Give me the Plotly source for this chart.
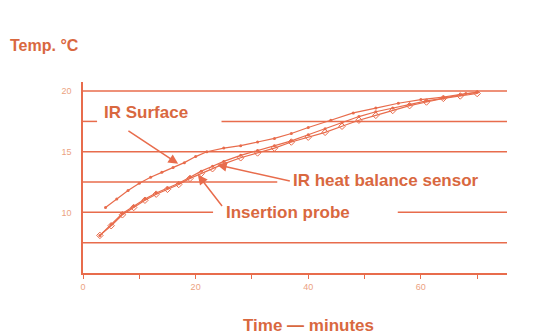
import plotly.graph_objects as go

# ---- data ----
surf_t = [4, 6, 8, 10, 12, 14, 16, 18, 20, 22, 25, 28, 31, 34, 37, 40, 44, 48, 52, 56, 60, 64, 68, 70]
surf_v = [10.4, 11.1, 11.8, 12.4, 12.9, 13.3, 13.7, 14.1, 14.6, 15.0, 15.3, 15.5, 15.8, 16.1, 16.5, 17.0,
          17.6, 18.2, 18.6, 19.0, 19.3, 19.5, 19.8, 19.9]

hb_t = [3, 5, 7, 9, 11, 13, 15, 17, 19, 21, 23, 25, 28, 31, 34, 37, 40, 43, 46, 49, 52, 55, 58, 61, 64, 67, 70]
hb_v = [8.1, 9.0, 9.9, 10.5, 11.1, 11.6, 12.0, 12.4, 12.9, 13.4, 13.8, 14.2, 14.7, 15.1, 15.5, 15.9, 16.4,
        16.9, 17.4, 17.9, 18.3, 18.6, 18.9, 19.2, 19.4, 19.7, 19.9]

ins_t = [3, 5, 7, 9, 11, 13, 15, 17, 19, 21, 23, 25, 28, 31, 34, 37, 40, 43, 46, 49, 52, 55, 58, 61, 64, 67, 70]
ins_v = [8.1, 8.9, 9.8, 10.4, 11.0, 11.5, 11.9, 12.3, 12.8, 13.2, 13.6, 14.0, 14.5, 14.9, 15.3, 15.8, 16.2,
         16.6, 17.1, 17.6, 18.0, 18.4, 18.8, 19.1, 19.4, 19.6, 19.8]

x_ticks = [0, 10, 20, 30, 40, 50, 60, 70]
x_ticklabels = ["0", "", "20", "", "40", "", "60", ""]
y_ticks = [10, 15, 20]

# horizontal rule lines: (value, [segments in minutes])
rules = [
    (20.0, [(0, 75.3)]),
    (17.5, [(0, 2.5), (24.6, 75.3)]),
    (15.0, [(0, 75.3)]),
    (12.5, [(0, 34.5)]),
    (10.0, [(0, 23.1), (55.9, 75.3)]),
    (7.5, [(0, 75.3)]),
]

LINE = "#e86c4c"
TEXT = "#d9683f"
TICK = "#eca282"
FONT = "Liberation Sans, Arial, sans-serif"

fig = go.Figure()
fig.add_trace(go.Scatter(x=surf_t, y=surf_v, mode="lines+markers",
                         line=dict(color=LINE, width=1.2),
                         marker=dict(size=3, color=LINE), showlegend=False))
fig.add_trace(go.Scatter(x=hb_t, y=hb_v, mode="lines+markers",
                         line=dict(color=LINE, width=1.2),
                         marker=dict(size=3, color=LINE), showlegend=False))
fig.add_trace(go.Scatter(x=ins_t, y=ins_v, mode="lines+markers",
                         line=dict(color=LINE, width=1.2),
                         marker=dict(size=5, symbol="diamond-open", color=LINE, line=dict(width=1)),
                         showlegend=False))

shapes = []
for val, segs in rules:
    for a, b in segs:
        shapes.append(dict(type="line", xref="x", yref="y", x0=a, x1=b, y0=val, y1=val,
                           line=dict(color=LINE, width=1.5), layer="below"))
fig.update_layout(shapes=shapes)

lab_font = dict(family=FONT, size=17, color=TEXT)
anns = [
    dict(x=3.4, y=17.5, text="<b>IR Surface</b>", showarrow=False, xanchor="left", yanchor="bottom",
         yshift=-3, font=lab_font),
    dict(x=37.0, y=12.5, text="<b>IR heat balance sensor</b>", showarrow=False, xanchor="left",
         yanchor="middle", yshift=2, font=lab_font),
    dict(x=25.0, y=10.0, text="<b>Insertion probe</b>", showarrow=False, xanchor="left",
         yanchor="middle", yshift=0, font=lab_font),
    # arrows
    dict(x=16.9, y=14.0, ax=7.8, ay=16.8, axref="x", ayref="y", text="", showarrow=True,
         arrowhead=2, arrowsize=1.3, arrowwidth=1.5, arrowcolor=LINE),
    dict(x=23.8, y=13.93, ax=37.0, ay=12.55, axref="x", ayref="y", text="", showarrow=True,
         arrowhead=2, arrowsize=1.3, arrowwidth=1.5, arrowcolor=LINE),
    dict(x=20.4, y=13.1, ax=24.9, ay=10.4, axref="x", ayref="y", text="", showarrow=True,
         arrowhead=2, arrowsize=1.3, arrowwidth=1.5, arrowcolor=LINE),
    # titles
    dict(xref="paper", yref="paper", x=-75 / 424, y=1 + (82 - 45) / 191, text="<b>Temp. °C</b>",
         showarrow=False, xanchor="left", yanchor="middle",
         font=dict(family=FONT, size=16, color=TEXT)),
    dict(xref="paper", yref="paper", x=(308 - 83) / 424, y=-(325 - 273) / 191, text="<b>Time — minutes</b>",
         showarrow=False, xanchor="center", yanchor="middle",
         font=dict(family=FONT, size=17, color=TEXT)),
]
fig.update_layout(annotations=anns)

# page body has an 8px margin, so the figure is sized/offset to compensate
fig.update_layout(
    width=539, height=328,
    margin=dict(l=75, r=40, t=74, b=63),
    paper_bgcolor="white", plot_bgcolor="white",
    xaxis=dict(range=[0, 75.3], tickvals=x_ticks, ticktext=x_ticklabels, showgrid=False, zeroline=False,
               showline=True, linecolor=LINE, linewidth=1.5, ticks="outside", ticklen=4, tickcolor=LINE,
               tickfont=dict(family=FONT, size=9, color=TICK)),
    yaxis=dict(range=[5, 20.75], tickvals=y_ticks, showgrid=False, zeroline=False,
               showline=True, linecolor=LINE, linewidth=1.5, ticks="", ticklabelstandoff=8,
               tickfont=dict(family=FONT, size=9, color=TICK)),
)

fig.write_html("out.html")
